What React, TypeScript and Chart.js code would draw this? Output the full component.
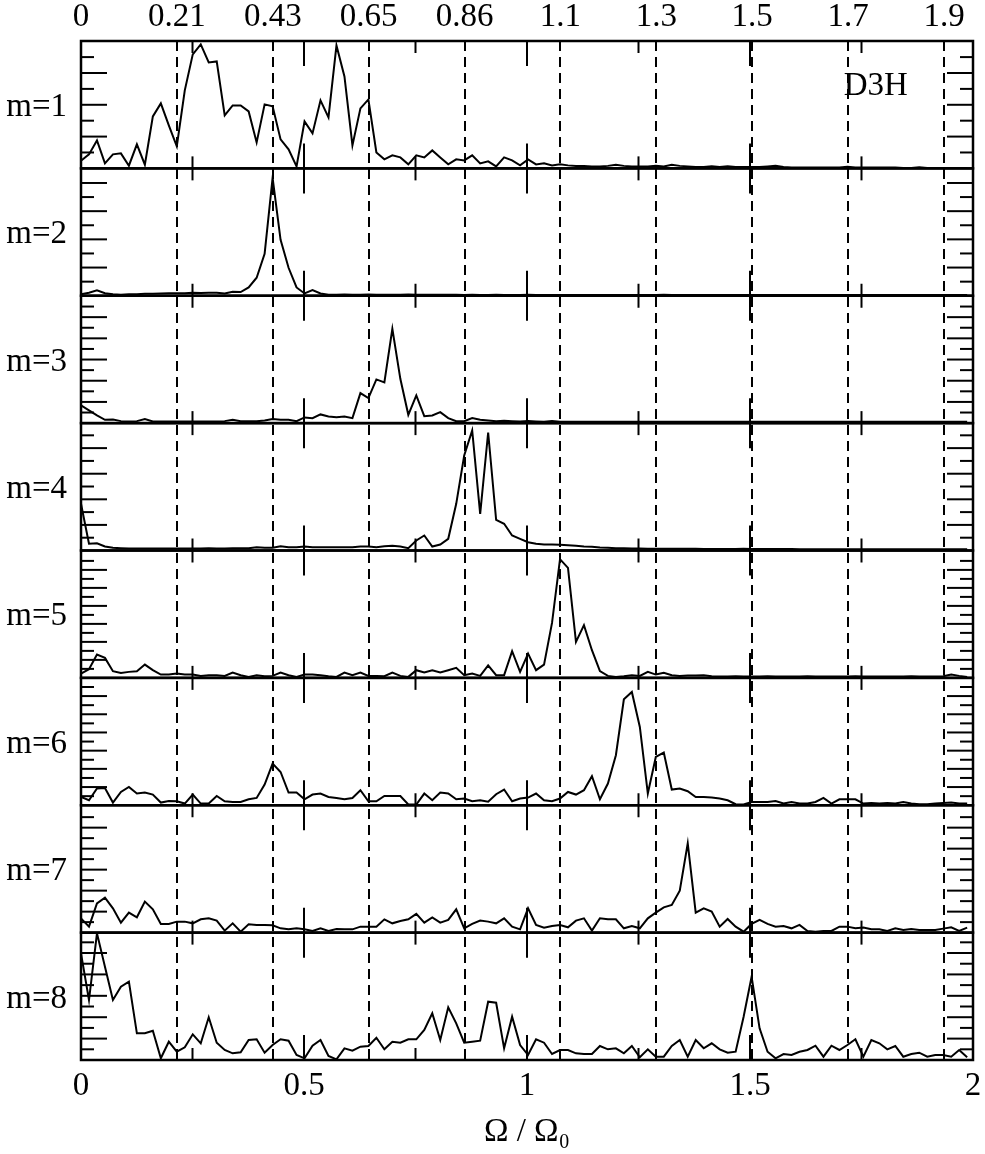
import { useEffect, useRef } from "react";
import { Chart, registerables } from "chart.js";

Chart.register(...registerables);

// frequency grid of the spectra (Omega / Omega_0)
const N_POINTS = 112;
const OMEGA_STEP = 0.0179;
const OMEGA = Array.from({ length: N_POINTS }, (_, i) => i * OMEGA_STEP);

const MODE_LABELS = ["m=1", "m=2", "m=3", "m=4", "m=5", "m=6", "m=7", "m=8"];

const M1 = [
  7.7, 14, 28, 5, 14, 15, 2.7, 24, 3.7, 52,
  65, 43, 22, 78, 114, 124, 106, 107, 53, 63,
  63, 57, 26, 64, 62, 29, 19, 2, 47, 35,
  68, 51, 123, 92, 23, 60, 69, 16, 9, 13,
  11, 4, 13, 11, 18, 11, 4, 9, 8, 13,
  5, 7, 2, 11, 8, 3, 9, 4, 5, 3,
  4, 3, 2.5, 2.5, 2, 2, 2.5, 3.5, 2.5, 2,
  2, 2, 2.5, 2, 3.5, 2.5, 2, 1.5, 1.5, 2,
  1.5, 2, 1.5, 1.5, 1.5, 1.5, 2, 2.5, 1.5, 1,
  1, 1, 1, 1, 1, 1, 1.5, 1, 1, 1,
  1, 1, 1, 0.5, 0.5, 1, 0.5, 0.5, 0.5, 0.5,
  0.5, 0.5,
];

const M2 = [
  1.5, 3, 5.5, 2.5, 1.5, 1, 1.5, 1.5, 2, 2,
  2.3, 2.5, 2.5, 2.5, 3, 2.7, 3, 3, 2.3, 4,
  3.7, 8.3, 18, 42, 118, 56, 28, 8.3, 2.3, 5.7,
  2.3, 1, 1, 1.3, 1, 1, 1.3, 1, 1, 1,
  1, 1.3, 1, 1, 1, 1, 1, 1, 0.7, 1,
  0.7, 0.7, 1, 0.7, 0.7, 0.7, 1, 0.7, 0.7, 0.7,
  0.7, 0.7, 0.7, 0.7, 0.7, 0.7, 0.7, 0.7, 0.7, 0.7,
  0.7, 0.7, 0.7, 1, 0.7, 0.7, 0.7, 0.7, 0.7, 0.7,
  0.7, 0.7, 0.7, 0.7, 0.7, 0.7, 0.7, 0.7, 0.7, 0.7,
  0.7, 0.7, 0.7, 0.7, 0.7, 0.7, 0.7, 0.7, 0.7, 0.7,
  0.7, 0.7, 0.7, 0.7, 0.7, 0.7, 0.7, 0.7, 0.7, 0.7,
  0.7, 0.7,
];

const M3 = [
  17.7, 12.7, 7.7, 3.3, 3.7, 2, 1.7, 2, 4, 1.7,
  1.7, 1.7, 1.7, 1.7, 1.7, 1.7, 1.7, 1.7, 2, 3.3,
  2, 2, 2, 2.7, 4, 3.3, 3.3, 2, 5.7, 5,
  8.7, 6.7, 6, 6.7, 5, 30, 25, 43.7, 40.7, 94.3,
  44.3, 8.3, 27.7, 7, 7.7, 11, 5, 2, 2, 5,
  3.3, 2.7, 2, 2.3, 2, 1.7, 2, 1.7, 1.3, 2,
  1.3, 1.3, 1.5, 1.3, 1.3, 1.3, 1.3, 1.3, 1.3, 1.3,
  1.3, 1.3, 1.3, 1.3, 1.3, 1.5, 1.3, 1.3, 1.3, 1.3,
  1.3, 1.3, 1.3, 1.3, 1.3, 1.3, 1.3, 1.3, 1.3, 1.3,
  1.3, 1.3, 1.3, 1.3, 1.3, 1.3, 1.3, 1.5, 1.3, 1.3,
  1.3, 1.3, 1.3, 1.3, 1.3, 1.3, 1.3, 1.3, 1.3, 1.3,
  1.3, 1.3,
];

const M4 = [
  46.7, 6.7, 7.3, 4, 2.7, 2.3, 2, 2, 2, 2,
  2, 2, 2, 2, 2, 2, 2.3, 2, 2, 2.3,
  2.3, 2.3, 3.3, 2.7, 2.7, 4.3, 3.3, 3.3, 4, 3.3,
  3.3, 3.3, 3.3, 3.3, 3.3, 4, 4, 3.3, 4.3, 4.7,
  4, 2.3, 10, 15, 4, 6, 11.7, 46.7, 95, 120,
  36.7, 118, 30.7, 26.7, 15, 11.7, 8.3, 6.7, 6, 6,
  5.7, 5.3, 4.7, 4, 3.7, 3, 2.7, 2.3, 2.3, 2,
  2, 1.7, 1.7, 1.7, 1.7, 1.7, 1.7, 1.7, 1.5, 1.5,
  1.5, 1.5, 1.5, 1.7, 1.5, 1.5, 1.5, 1.5, 1.5, 1.5,
  1.3, 1.3, 1.3, 1.3, 1.3, 1.3, 1.3, 1.3, 1.3, 1.3,
  1.3, 1.3, 1.3, 1.3, 1.3, 1.3, 1.3, 1.3, 1.3, 1.3,
  1.3, 1.3,
];

const M5 = [
  4.3, 8.7, 23.3, 20, 6.7, 5, 6, 6.7, 13.3, 7.7,
  3.3, 3.3, 4.3, 3.3, 3.3, 2, 2.7, 2.7, 2, 5.3,
  2.7, 1, 2.7, 1.7, 2, 5.3, 2.7, 1, 3.3, 3.3,
  2.7, 1.7, 1, 5.3, 2.7, 5.3, 2, 2, 1.7, 5.3,
  2, 1, 7.7, 5.3, 7.7, 5.3, 7.7, 10, 2.7, 4.3,
  2, 12.5, 2.7, 2.7, 26.7, 6, 24.3, 7.7, 13.3, 55,
  118.7, 110, 36, 52.7, 27.7, 6.7, 2, 1, 1.7, 2.7,
  2, 6, 3.3, 5, 2.7, 2, 2.3, 2.3, 2.7, 1.7,
  1.3, 1.3, 1.7, 1.3, 1.3, 1.3, 1.7, 1.3, 1.3, 1.3,
  1.3, 1.7, 1.3, 1.3, 1.3, 1.3, 1.3, 1.7, 1.3, 1.3,
  1.3, 1.3, 1.3, 1.3, 1.7, 1.3, 1.3, 1.3, 1.7, 3.3,
  2, 1,
];

const M6 = [
  8.3, 5, 16.7, 17.3, 2.7, 13.3, 18.3, 11.7, 12.7, 10.7,
  2.7, 4.3, 4, 1.7, 10.7, 1.7, 1.7, 9.3, 4, 3.3,
  3.3, 6, 7.3, 20.7, 41.7, 33.3, 12.7, 12.7, 6, 10.7,
  11.7, 8.3, 7.3, 6, 7.3, 15, 4, 4, 9.3, 9.3,
  9.3, 0.7, 0.7, 11.7, 5, 12.7, 11.7, 6, 6.7, 4,
  5, 3.5, 11, 15.7, 4, 6.7, 7.7, 11.7, 5, 4,
  6.7, 13.3, 10.7, 15, 29, 6, 21.7, 50, 106, 113.3,
  78.3, 11.7, 48.3, 52.7, 15.7, 16.7, 14, 8.3, 8.3, 7.7,
  6.7, 5, 1, 0.7, 3.3, 3.3, 3.3, 4.3, 1.7, 3.3,
  1.7, 1.7, 3.3, 7.3, 1.7, 6, 6, 6, 1.7, 2.3,
  1.7, 2.3, 1.7, 3.3, 1.7, 1, 1, 1.7, 2.3, 2.7,
  1.7, 1.7,
];

const M7 = [
  14.3, 6, 29.3, 35, 24.3, 10, 20, 15.3, 31, 23.3,
  8.7, 8.7, 11, 11, 9.3, 13.3, 14.3, 12, 2, 9.3,
  1, 8.3, 7.7, 7.7, 7.3, 4.3, 3.3, 4.3, 3.3, 1.7,
  4.3, 1.7, 3.7, 3.3, 3.3, 6, 6, 6, 13.3, 9.3,
  11.7, 13.3, 18.7, 10, 15.3, 10, 12.7, 23.3, 4.3, 8.7,
  12, 11, 9.3, 14.3, 6, 3.3, 24.3, 7.7, 5, 6.7,
  7.7, 5.3, 12, 14.3, 2, 14.3, 13.3, 13.3, 4.3, 6.7,
  4.3, 14.3, 20, 25.3, 27.7, 42, 89.3, 20, 24.3, 21,
  6, 13.7, 6, 1, 8.7, 12.7, 8.7, 6, 6.7, 4.3,
  7.7, 1.7, 1, 1.7, 1.7, 6, 6, 4.3, 5, 3.3,
  3.3, 1.7, 4.3, 2.7, 3.7, 2.7, 2.7, 2.7, 4, 5.3,
  1.7, 5,
];

const M8 = [
  106.7, 60, 126.7, 93.3, 60, 73.3, 78.3, 26.7, 26.7, 29.3,
  1.7, 18.3, 8.3, 12.7, 25.7, 16.7, 42.7, 17.3, 10, 6.7,
  7.7, 20, 20.7, 7.3, 15, 20.7, 19.3, 5, 1.7, 14.3,
  20, 4, 0.7, 11.7, 9.3, 13.3, 14, 22.3, 10.7, 18.3,
  17.3, 20.7, 20.7, 30, 46.7, 20, 52.7, 36.7, 17.3, 18.3,
  19.3, 58.3, 57.3, 11.7, 43.3, 15, 5, 20.7, 17.3, 6,
  10, 10, 6.7, 6, 6, 14, 10.7, 11.7, 6.7, 14,
  2.7, 10.7, 3.3, 3.3, 14, 20, 3.3, 20, 11.7, 16.7,
  10.7, 7.3, 8.3, 43.3, 83.3, 31.7, 8.3, 1.7, 6, 5,
  8.3, 10, 14.3, 3.3, 14.3, 10, 15, 20.7, 3.3, 20,
  16.7, 10.7, 14, 3.3, 6, 7.3, 3.3, 5, 5, 3.3,
  10, 2.7,
];

const SPECTRA = [M1, M2, M3, M4, M5, M6, M7, M8];

// resonance positions (dashed lines) and their labels on the top axis
const RESONANCES = [0, 0.215, 0.43, 0.645, 0.86, 1.075, 1.29, 1.505, 1.72, 1.935];
const RESONANCE_LABELS = ["0", "0.21", "0.43", "0.65", "0.86", "1.1", "1.3", "1.5", "1.7", "1.9"];

const X_FRAME_TICKS = [0.25, 0.5, 0.75, 1, 1.25, 1.5, 1.75];
const PANEL_MAX = 127.4;
const PANEL_TICK_STEP = [15.9, 14.1, 10.6, 12.8, 9.0, 9.1, 10.5, 10.7];

const FONT_FAMILY = '"Liberation Serif", "Times New Roman", serif';
const FONT_SIZE = 33;
const PANEL_IDS = MODE_LABELS.map((_, i) => `y${i + 1}`);

const panelFrame = {
  id: "panelFrame",
  afterDatasetsDraw(chart: Chart) {
    const { ctx, chartArea, scales } = chart;
    const x = scales.x;
    const line = (x1: number, y1: number, x2: number, y2: number) => {
      ctx.beginPath();
      ctx.moveTo(x1, y1);
      ctx.lineTo(x2, y2);
      ctx.stroke();
    };
    ctx.save();
    ctx.strokeStyle = "#000";
    PANEL_IDS.forEach((id, p) => {
      const y = scales[id];
      ctx.lineWidth = 2.5;
      ctx.strokeRect(chartArea.left, y.top, chartArea.right - chartArea.left, y.bottom - y.top);
      ctx.lineWidth = 2;
      const step = PANEL_TICK_STEP[p];
      for (let k = 1; k * step < PANEL_MAX - 2; k++) {
        const py = y.getPixelForValue(k * step);
        const len = k % 2 === 0 ? 26 : 13;
        line(chartArea.left, py, chartArea.left + len, py);
        line(chartArea.right, py, chartArea.right - len, py);
      }
      X_FRAME_TICKS.forEach((v) => {
        const px = x.getPixelForValue(v);
        const len = Number.isInteger(v * 2) ? 25 : 12;
        line(px, y.top, px, y.top + len);
        line(px, y.bottom, px, y.bottom - len);
      });
    });
    // panel tag
    ctx.fillStyle = "#000";
    ctx.font = `${FONT_SIZE}px ${FONT_FAMILY}`;
    ctx.textAlign = "center";
    ctx.textBaseline = "middle";
    ctx.fillText("D3H", x.getPixelForValue(1.782), scales.y1.getPixelForValue(82));
    ctx.restore();
  },
};

const tickFont = { family: FONT_FAMILY, size: FONT_SIZE };

const noSidePadding = (scale: any, height: number) => {
  scale.height = height;
  scale.paddingLeft = 0;
  scale.paddingRight = 0;
};

const buildScales = () => {
  const scales: Record<string, any> = {
    x: {
      type: "linear",
      position: "bottom",
      min: 0,
      max: 2,
      ticks: {
        stepSize: 0.5,
        color: "#000",
        font: tickFont,
        padding: 7,
        maxRotation: 0,
        callback: (value: any) => `${value}`,
      },
      grid: { display: false, drawTicks: false },
      border: { display: false },
      title: {
        display: true,
        text: "Ω / Ω₀",
        color: "#000",
        font: tickFont,
        padding: { top: 0, bottom: 2 },
      },
      afterFit: (scale: any) => noSidePadding(scale, 94),
    },
    x2: {
      type: "linear",
      position: "top",
      min: 0,
      max: 2,
      afterBuildTicks: (scale: any) => {
        scale.ticks = RESONANCES.map((value) => ({ value }));
      },
      ticks: {
        color: "#000",
        font: tickFont,
        padding: 4,
        maxRotation: 0,
        autoSkip: false,
        callback: (_v: any, i: number) => RESONANCE_LABELS[i],
      },
      grid: {
        drawOnChartArea: true,
        drawTicks: false,
        lineWidth: 2,
        color: (c: any) => (c.tick && c.tick.value === 0 ? "rgba(0,0,0,0)" : "#000"),
      },
      border: { display: false, dash: [10, 6] },
      afterFit: (scale: any) => noSidePadding(scale, 41),
    },
  };
  PANEL_IDS.forEach((id, p) => {
    scales[id] = {
      type: "linear",
      position: "left",
      stack: "panels",
      stackWeight: 1,
      weight: PANEL_IDS.length - p,
      min: 0,
      max: PANEL_MAX,
      afterBuildTicks: (scale: any) => {
        scale.ticks = [{ value: PANEL_MAX * 0.48 }];
      },
      ticks: {
        color: "#000",
        font: tickFont,
        padding: 14,
        callback: () => MODE_LABELS[p],
      },
      grid: { display: false, drawTicks: false },
      border: { display: false },
      afterFit: (scale: any) => {
        scale.width = 81;
        scale.paddingTop = 0;
        scale.paddingBottom = 0;
      },
    };
  });
  return scales;
};

export default function App() {
  const canvasRef = useRef<HTMLCanvasElement | null>(null);

  useEffect(() => {
    if (!canvasRef.current) return;
    const chart = new Chart(canvasRef.current, {
      type: "line",
      data: {
        datasets: SPECTRA.map((series, p) => ({
          label: MODE_LABELS[p],
          data: series.map((y, i) => ({ x: OMEGA[i], y })),
          xAxisID: "x",
          yAxisID: PANEL_IDS[p],
          borderColor: "#000",
          borderWidth: 2,
          pointRadius: 0,
          tension: 0,
          fill: false,
        })),
      },
      options: {
        responsive: false,
        animation: false,
        layout: { padding: { left: 0, right: 12, top: 0, bottom: 0 } },
        plugins: {
          legend: { display: false },
          tooltip: { enabled: false },
        },
        scales: buildScales(),
      },
      plugins: [panelFrame],
    });
    return () => {
      chart.destroy();
    };
  }, []);

  return (
    <div style={{ position: "absolute", left: 0, top: 0, width: 985, height: 1154, background: "#fff" }}>
      <canvas ref={canvasRef} width={985} height={1154} style={{ display: "block" }} />
    </div>
  );
}
